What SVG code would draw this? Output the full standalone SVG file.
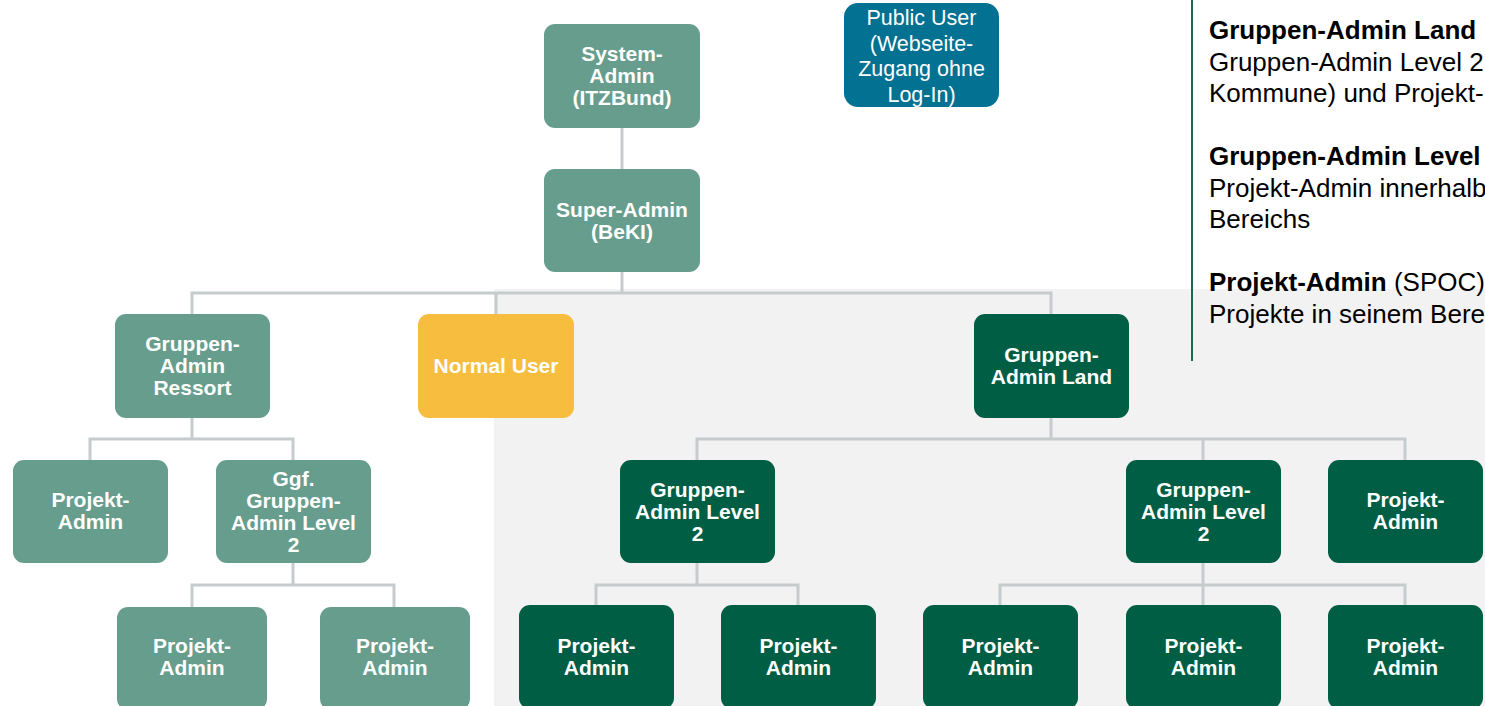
<svg xmlns="http://www.w3.org/2000/svg" width="1485" height="706" viewBox="0 0 1485 706">
<style>
.lg{fill:#669D8C}
.dk{fill:#005E45}
.yl{fill:#F6BD3E}
.bl{fill:#037192}
.nt{font-family:"Liberation Sans",Arial,sans-serif;font-size:21px;font-weight:bold;fill:#FFFFFF;text-anchor:middle}
.pt{font-family:"Liberation Sans",Arial,sans-serif;font-size:21.5px;fill:#FFFFFF;text-anchor:middle}
.rt{font-family:"Liberation Sans",Arial,sans-serif;font-size:26px;fill:#000000}
.b{font-weight:bold}
.cn{fill:none;stroke:#C6CBCE;stroke-width:3}
</style>
<rect x="0" y="0" width="1485" height="706" fill="#FFFFFF"/>
<rect id="bereich" x="494" y="289" width="991" height="417" fill="#F2F2F2"/>
<line x1="1192" y1="0" x2="1192" y2="361" stroke="#1A6A50" stroke-width="2"/>
<g id="legende">
<text class="rt" x="1209" y="39"><tspan class="b">Gruppen-Admin Land</tspan></text>
<text class="rt" x="1209" y="70.5">Gruppen-Admin Level 2</text>
<text class="rt" x="1209" y="102">Kommune) und Projekt-</text>
<text class="rt" x="1209" y="165"><tspan class="b">Gruppen-Admin Level</tspan></text>
<text class="rt" x="1209" y="196.5">Projekt-Admin innerhalb</text>
<text class="rt" x="1209" y="228">Bereichs</text>
<text class="rt" x="1209" y="291"><tspan class="b">Projekt-Admin</tspan> (SPOC)</text>
<text class="rt" x="1209" y="322.5">Projekte in seinem Bere</text>
</g>
<g id="connectors">
<path class="cn" d="M622 128V169"/>
<path class="cn" d="M622 272V293"/>
<path class="cn" d="M192 314V293H1051V314"/>
<path class="cn" d="M496 293V314"/>
<path class="cn" d="M192 418V439"/>
<path class="cn" d="M90 460V439H293V460"/>
<path class="cn" d="M293 563V585"/>
<path class="cn" d="M192 607V585H394V607"/>
<path class="cn" d="M1051 418V439"/>
<path class="cn" d="M697 460V439H1405V460"/>
<path class="cn" d="M1203 439V460"/>
<path class="cn" d="M697 563V585"/>
<path class="cn" d="M596 605V585H798V605"/>
<path class="cn" d="M1203 563V585"/>
<path class="cn" d="M1000 605V585H1405V605"/>
<path class="cn" d="M1203 585V605"/>
</g>
<g id="system-admin"><rect class="lg" x="544" y="24" width="156" height="104" rx="11"/>
<text class="nt" x="622" y="61">System-</text><text class="nt" x="622" y="83">Admin</text><text class="nt" x="622" y="105">(ITZBund)</text></g>
<g id="public-user"><rect class="bl" x="844" y="3" width="155" height="104" rx="14"/>
<text class="pt" x="921.5" y="25">Public User</text><text class="pt" x="921.5" y="50.5">(Webseite-</text><text class="pt" x="921.5" y="76">Zugang ohne</text><text class="pt" x="921.5" y="101.5">Log-In)</text></g>
<g id="super-admin"><rect class="lg" x="544" y="169" width="156" height="103" rx="11"/>
<text class="nt" x="622" y="216.5">Super-Admin</text><text class="nt" x="622" y="238.5">(BeKI)</text></g>
<g id="gruppen-admin-ressort"><rect class="lg" x="115" y="314" width="155" height="104" rx="11"/>
<text class="nt" x="192.5" y="351">Gruppen-</text><text class="nt" x="192.5" y="373">Admin</text><text class="nt" x="192.5" y="395">Ressort</text></g>
<g id="normal-user"><rect class="yl" x="418" y="314" width="156" height="104" rx="11"/>
<text class="nt" x="496" y="373">Normal User</text></g>
<g id="gruppen-admin-land"><rect class="dk" x="974" y="314" width="155" height="104" rx="11"/>
<text class="nt" x="1051.5" y="362">Gruppen-</text><text class="nt" x="1051.5" y="384">Admin Land</text></g>
<g id="projekt-admin-1"><rect class="lg" x="13" y="460" width="155" height="103" rx="11"/>
<text class="nt" x="90.5" y="507">Projekt-</text><text class="nt" x="90.5" y="529">Admin</text></g>
<g id="ggf-gruppen-admin-level-2"><rect class="lg" x="216" y="460" width="155" height="103" rx="11"/>
<text class="nt" x="293.5" y="485.5">Ggf.</text><text class="nt" x="293.5" y="507.5">Gruppen-</text><text class="nt" x="293.5" y="529.5">Admin Level</text><text class="nt" x="293.5" y="551.5">2</text></g>
<g id="gruppen-admin-level-2-a"><rect class="dk" x="620" y="460" width="155" height="103" rx="11"/>
<text class="nt" x="697.5" y="496.5">Gruppen-</text><text class="nt" x="697.5" y="518.5">Admin Level</text><text class="nt" x="697.5" y="540.5">2</text></g>
<g id="gruppen-admin-level-2-b"><rect class="dk" x="1126" y="460" width="155" height="103" rx="11"/>
<text class="nt" x="1203.5" y="496.5">Gruppen-</text><text class="nt" x="1203.5" y="518.5">Admin Level</text><text class="nt" x="1203.5" y="540.5">2</text></g>
<g id="projekt-admin-2"><rect class="dk" x="1328" y="460" width="155" height="103" rx="11"/>
<text class="nt" x="1405.5" y="507">Projekt-</text><text class="nt" x="1405.5" y="529">Admin</text></g>
<g id="projekt-admin-3"><rect class="lg" x="117" y="607" width="150" height="103" rx="11"/>
<text class="nt" x="192" y="653">Projekt-</text><text class="nt" x="192" y="675">Admin</text></g>
<g id="projekt-admin-4"><rect class="lg" x="320" y="607" width="150" height="103" rx="11"/>
<text class="nt" x="395" y="653">Projekt-</text><text class="nt" x="395" y="675">Admin</text></g>
<g id="projekt-admin-5"><rect class="dk" x="519" y="605" width="155" height="104" rx="11"/>
<text class="nt" x="596.5" y="653">Projekt-</text><text class="nt" x="596.5" y="675">Admin</text></g>
<g id="projekt-admin-6"><rect class="dk" x="721" y="605" width="155" height="104" rx="11"/>
<text class="nt" x="798.5" y="653">Projekt-</text><text class="nt" x="798.5" y="675">Admin</text></g>
<g id="projekt-admin-7"><rect class="dk" x="923" y="605" width="155" height="104" rx="11"/>
<text class="nt" x="1000.5" y="653">Projekt-</text><text class="nt" x="1000.5" y="675">Admin</text></g>
<g id="projekt-admin-8"><rect class="dk" x="1126" y="605" width="155" height="104" rx="11"/>
<text class="nt" x="1203.5" y="653">Projekt-</text><text class="nt" x="1203.5" y="675">Admin</text></g>
<g id="projekt-admin-9"><rect class="dk" x="1328" y="605" width="155" height="104" rx="11"/>
<text class="nt" x="1405.5" y="653">Projekt-</text><text class="nt" x="1405.5" y="675">Admin</text></g>
</svg>
